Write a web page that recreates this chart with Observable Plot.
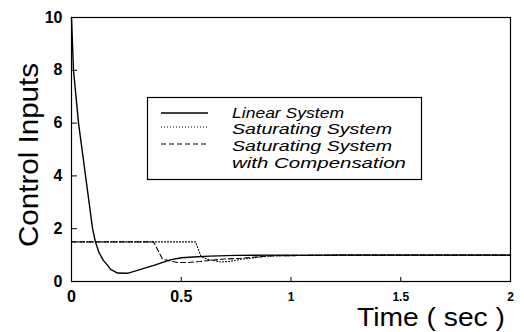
<!DOCTYPE html>
<html>
<head>
<meta charset="utf-8">
<script src="https://cdn.jsdelivr.net/npm/d3@7"></script>
<script src="https://cdn.jsdelivr.net/npm/@observablehq/plot@0.6"></script>
<style>
  html, body { margin: 0; padding: 0; background: #fff; }
  #chart { position: relative; width: 524px; height: 332px; }
</style>
</head>
<body>
<div id="chart"></div>
<script>
// ---- data ----
const xTicksLarge = [0, 0.5];
const xTicksSmall = [1, 1.5, 2];
const yTicks = [0, 2, 4, 6, 8, 10];
const innerYTicks = [2, 4, 6, 8];
const innerXTicks = [0.5, 1, 1.5];

const linearTime = [0, 0.009, 0.032, 0.064, 0.096, 0.109, 0.125, 0.145, 0.164, 0.178, 0.21, 0.255, 0.30, 0.375, 0.45, 0.5, 0.556, 0.63, 0.75, 0.9, 1.2, 1.6, 2.0];
const linearValue = [10, 8, 6, 4, 2, 1.5, 1.1, 0.8, 0.62, 0.46, 0.32, 0.31, 0.42, 0.61, 0.82, 0.9, 0.93, 0.96, 0.99, 1, 1, 1, 1];

const satTime = [0, 0.565, 0.59, 0.62, 0.68, 0.72, 0.77, 0.815, 0.9, 1.2, 2.0];
const satValue = [1.5, 1.5, 0.95, 0.84, 0.74, 0.76, 0.84, 0.88, 0.97, 1, 1];

const compTime = [0, 0.374, 0.415, 0.483, 0.53, 0.588, 0.679, 0.77, 0.815, 0.9, 1.2, 2.0];
const compValue = [1.5, 1.5, 0.84, 0.72, 0.72, 0.76, 0.84, 0.88, 0.91, 0.97, 1, 1];

const seriesNames = ["Linear System", "Saturating System", "Saturating System", "with Compensation"];
const xLabel = "Time ( sec )";
const yLabel = "Control Inputs";

const toRows = (ts, vs) => ts.map((t, i) => ({t, v: vs[i]}));
const linearRows = toRows(linearTime, linearValue);
const satRows = toRows(satTime, satValue);
const compRows = toRows(compTime, compValue);

const W = 524, H = 332, mL = 71, mR = 14, mT = 17, mB = 51;
const font = "'Liberation Sans', Arial, Helvetica, sans-serif";

const plot = Plot.plot({
  width: W, height: H,
  marginLeft: mL, marginRight: mR, marginTop: mT, marginBottom: mB,
  style: {fontFamily: font, background: "#fff", color: "#000"},
  x: {domain: [0, 2]},
  y: {domain: [0, 10]},
  marks: [
    Plot.frame({stroke: "#000", strokeWidth: 1.2}),
    Plot.ruleY(innerYTicks, {stroke: "#000", insetRight: W - mL - mR - 6}),
    Plot.ruleX(innerXTicks, {stroke: "#000", insetTop: H - mT - mB - 4}),
    Plot.axisX(xTicksLarge, {tickSize: 0, tickPadding: 9, fontSize: 16, fontWeight: "bold", label: null, tickFormat: d => String(d)}),
    Plot.axisX(xTicksSmall, {tickSize: 0, tickPadding: 11, fontSize: 12, fontWeight: "bold", label: null, tickFormat: d => String(d)}),
    Plot.axisY(yTicks, {tickSize: 0, tickPadding: 9, fontSize: 16, fontWeight: "bold", label: null, tickFormat: d => String(d)}),
    Plot.line(compRows, {x: "t", y: "v", stroke: "#000", strokeWidth: 1.1, strokeDasharray: "5,3"}),
    Plot.line(satRows, {x: "t", y: "v", stroke: "#000", strokeWidth: 1.1, strokeDasharray: "1,2"}),
    Plot.line(linearRows, {x: "t", y: "v", stroke: "#000", strokeWidth: 1.4})
  ]
});
document.getElementById("chart").appendChild(plot);

// ---- axis titles and legend drawn into the same SVG ----
const svg = d3.select(plot);
svg.append("text")
  .attr("transform", "translate(38,155) rotate(-90)")
  .attr("text-anchor", "middle")
  .attr("font-family", font).attr("font-size", 28)
  .attr("textLength", 184).attr("lengthAdjust", "spacingAndGlyphs")
  .attr("fill", "#000")
  .text(yLabel);
svg.append("text")
  .attr("x", 357).attr("y", 326)
  .attr("text-anchor", "start")
  .attr("font-family", font).attr("font-size", 25)
  .attr("textLength", 148).attr("lengthAdjust", "spacingAndGlyphs")
  .attr("fill", "#000")
  .text(xLabel);

const lg = svg.append("g");
lg.append("rect").attr("x", 147.5).attr("y", 97.5).attr("width", 274).attr("height", 82)
  .attr("fill", "#fff").attr("stroke", "#000").attr("stroke-width", 1.2);
const sampleY = [113, 127, 144];
const dashes = [null, "1,2", "5,3"];
sampleY.forEach((y, i) => {
  lg.append("line").attr("x1", 161).attr("x2", 208).attr("y1", y).attr("y2", y)
    .attr("stroke", "#000").attr("stroke-width", i === 0 ? 1.3 : 1.1)
    .attr("stroke-dasharray", dashes[i]);
});
const textBase = [118, 134, 151, 168];
const textLen = [112, 160, 160, 174];
seriesNames.forEach((s, i) => {
  lg.append("text").attr("x", 232).attr("y", textBase[i])
    .attr("text-anchor", "start")
    .attr("font-family", font).attr("font-size", 14.5).attr("font-style", "italic")
    .attr("textLength", textLen[i]).attr("lengthAdjust", "spacingAndGlyphs")
    .attr("fill", "#000").text(s);
});
</script>
</body>
</html>
